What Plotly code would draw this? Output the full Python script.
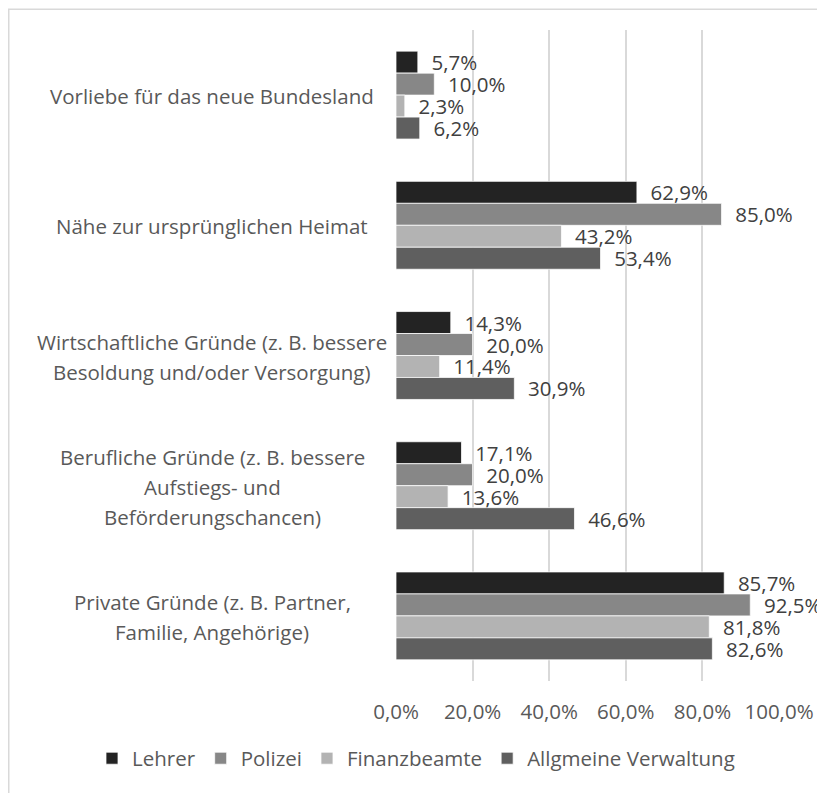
import plotly.graph_objects as go

categories = [
    "Vorliebe für das neue Bundesland",
    "Nähe zur ursprünglichen Heimat",
    "Wirtschaftliche Gründe (z. B. bessere<br>Besoldung und/oder Versorgung)",
    "Berufliche Gründe (z. B. bessere<br>Aufstiegs- und<br>Beförderungschancen)",
    "Private Gründe (z. B. Partner,<br>Familie, Angehörige)",
]
series_names = ["Lehrer", "Polizei", "Finanzbeamte", "Allgmeine Verwaltung"]
lehrer = [5.7, 62.9, 14.3, 17.1, 85.7]
polizei = [10.0, 85.0, 20.0, 20.0, 92.5]
finanzbeamte = [2.3, 43.2, 11.4, 13.6, 81.8]
allg_verwaltung = [6.2, 53.4, 30.9, 46.6, 82.6]
x_ticks = [0, 20, 40, 60, 80, 100]
x_ticktext = ["0,0%", "20,0%", "40,0%", "60,0%", "80,0%", "100,0%"]

colors = ["#232323", "#878787", "#b3b3b3", "#5f5f5f"]
FONT = "Open Sans, Segoe UI, sans-serif"
FS = 20.5

W, H = 817, 785
L, R, T, B = 388, 46, 21.5, 111.5
PW, PH = W - L - R, H - T - B

fig = go.Figure()
for name, vals, col in zip(series_names, [lehrer, polizei, finanzbeamte, allg_verwaltung], colors):
    fig.add_trace(go.Bar(
        y=categories, x=vals, name=name, orientation="h",
        marker=dict(color=col, line=dict(color="white", width=0.75)),
        texttemplate="  %{x:.1f}%", textposition="outside",
        textfont=dict(family=FONT, size=FS, color="#404040"),
        cliponaxis=False, constraintext="none",
    ))

# category labels as centered annotations with Excel-like line spacing
annotations = []
for cat in categories:
    lines = cat.split("<br>")
    n = len(lines)
    for i, ln in enumerate(lines):
        annotations.append(dict(
            x=-0.48, xref="paper", y=cat, yref="y", text=ln, showarrow=False,
            xanchor="center", yanchor="middle", align="center",
            yshift=((n - 1) / 2 - i) * 30 - 1,
            font=dict(family=FONT, size=FS, color="#595959"),
        ))

fig.update_layout(
    width=W, height=H,
    margin=dict(l=L, r=R, t=T, b=B, autoexpand=False),
    paper_bgcolor="white", plot_bgcolor="white",
    barmode="group", bargap=0.325, bargroupgap=0,
    separators=",.",
    font=dict(family=FONT, size=FS, color="#595959"),
    annotations=annotations,
    legend=dict(orientation="h", x=(84 - L) / PW, xanchor="left",
                y=(T + PH - 751) / PH, yanchor="middle",
                font=dict(family=FONT, size=FS, color="#595959"), itemwidth=30,
                traceorder="normal", bgcolor="rgba(0,0,0,0)"),
    xaxis=dict(range=[0, 100], tickvals=x_ticks, ticktext=x_ticktext,
               showgrid=True, gridcolor="#d9d9d9", gridwidth=1.5, zeroline=False,
               showline=False, ticklabelstandoff=16,
               tickfont=dict(family=FONT, size=FS, color="#595959")),
    yaxis=dict(autorange="reversed", showticklabels=False, showgrid=False,
               showline=False, zeroline=False),
    shapes=[dict(type="rect", xref="paper", yref="paper",
                 x0=(0.75 - L) / PW, x1=(W + 20 - L) / PW,
                 y0=(T + PH - (H + 20)) / PH, y1=(T + PH - 0.75) / PH,
                 line=dict(color="#d9d9d9", width=1.5), layer="below")],
)

fig.write_html("out.html")
